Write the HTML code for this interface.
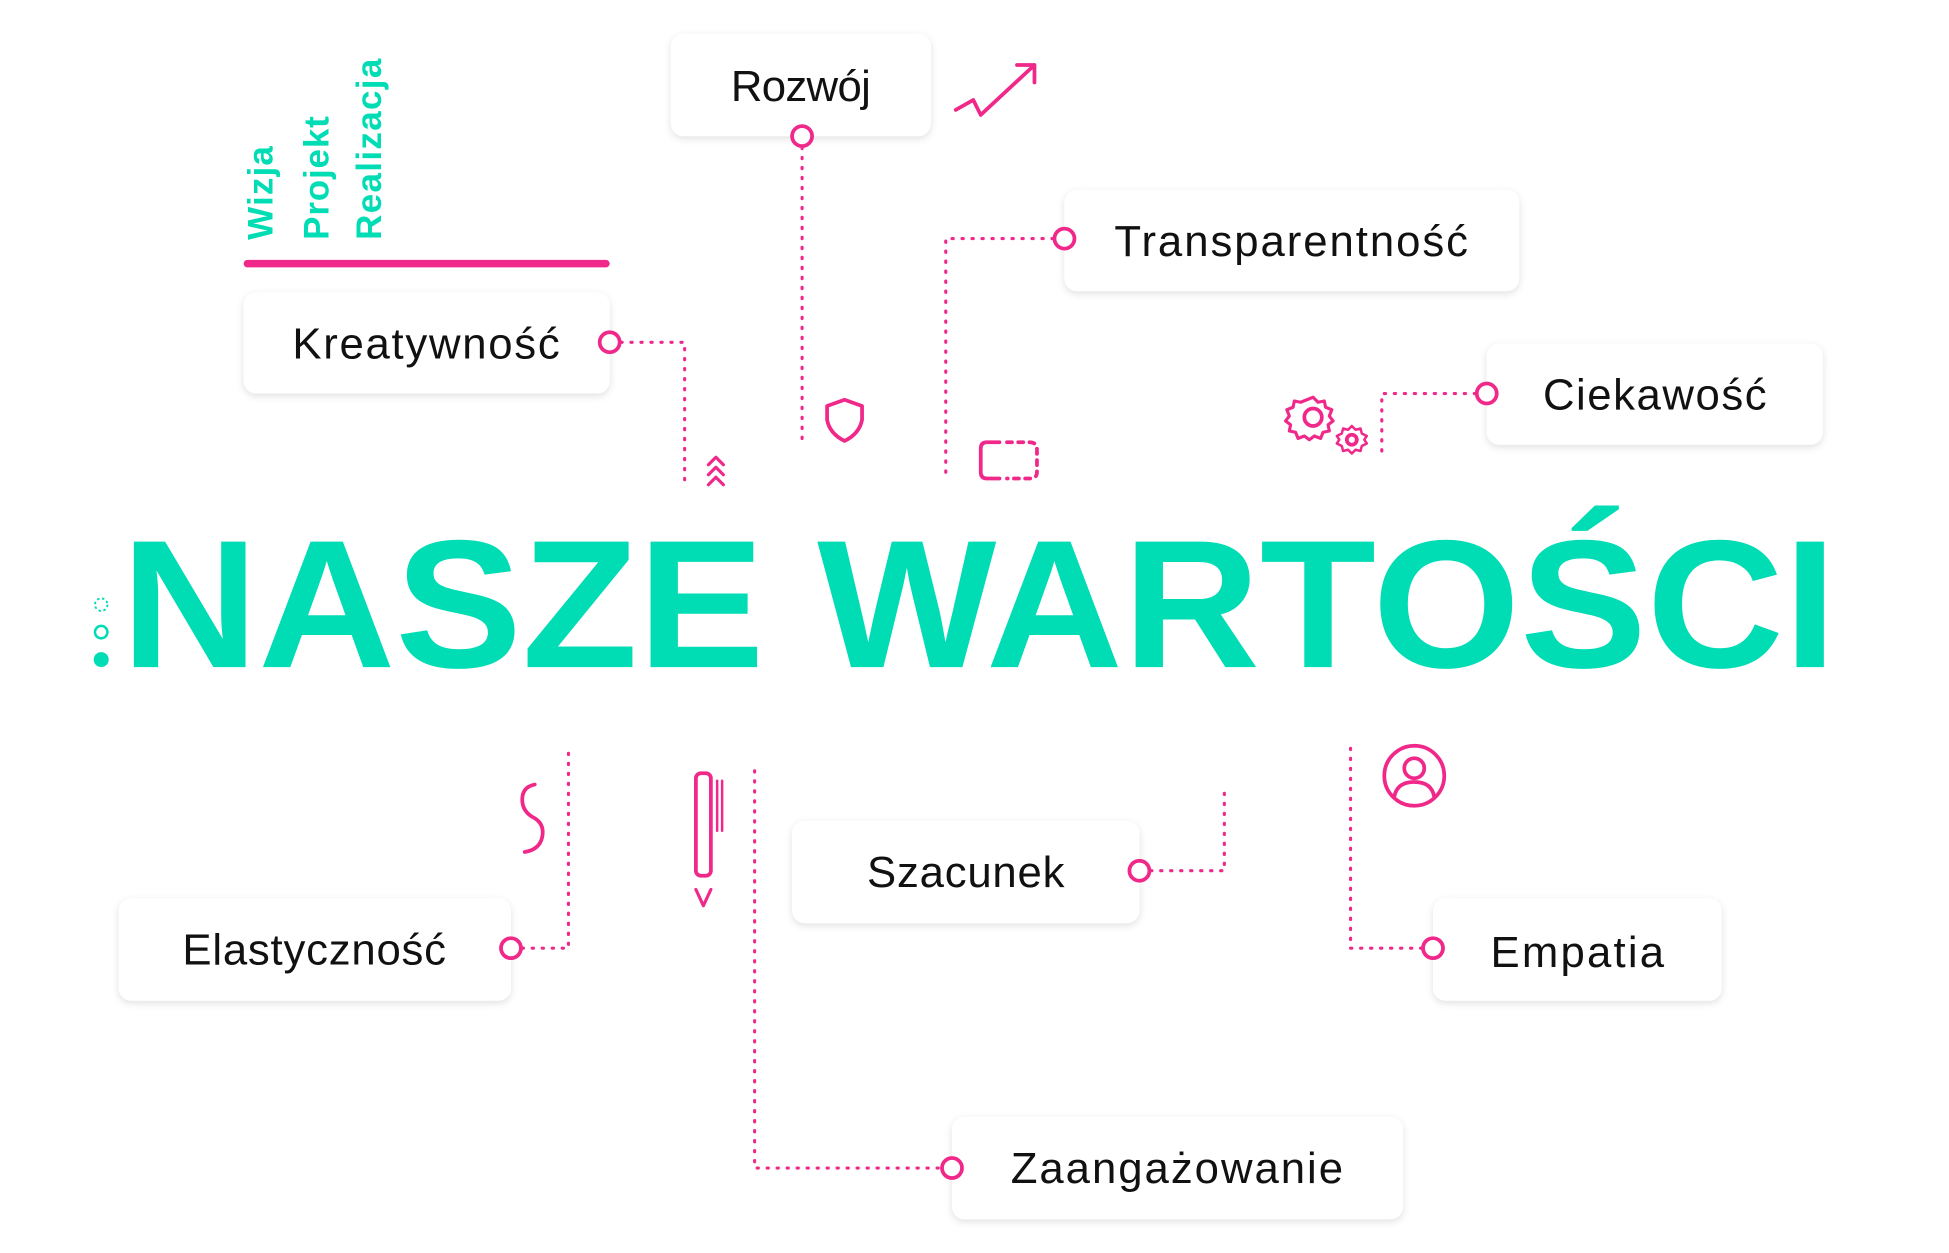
<!DOCTYPE html>
<html><head><meta charset="utf-8"><style>
html,body{margin:0;padding:0;background:#fff;}
svg{display:block;}
text{font-family:"Liberation Sans",sans-serif;}
</style></head><body>
<svg width="1949" height="1253" viewBox="0 0 1560 1003" preserveAspectRatio="none" xmlns="http://www.w3.org/2000/svg">
<defs>
<filter id="sh" x="-10%" y="-20%" width="120%" height="150%">
<feDropShadow dx="0" dy="2" stdDeviation="3" flood-color="#000" flood-opacity="0.12"/>
</filter>
</defs>
<g fill="#fff" filter="url(#sh)">
<rect x="537" y="27" width="208" height="82" rx="10"/>
<rect x="852" y="152" width="364" height="81" rx="10"/>
<rect x="195" y="234" width="293" height="81" rx="10"/>
<rect x="1190" y="275" width="269" height="81" rx="10"/>
<rect x="95" y="719" width="314" height="82" rx="10"/>
<rect x="634" y="657" width="278" height="82" rx="10"/>
<rect x="1147" y="719" width="231" height="82" rx="10"/>
<rect x="762" y="894" width="361" height="82" rx="10"/>
</g>
<g font-size="35" fill="#111" lengthAdjust="spacingAndGlyphs">
<text x="585" y="81" textLength="112">Rozwój</text>
<text x="892" y="205" textLength="283">Transparentność</text>
<text x="234" y="287" textLength="214">Kreatywność</text>
<text x="1235" y="328" textLength="179">Ciekawość</text>
<text x="146" y="772" textLength="211">Elastyczność</text>
<text x="694" y="710" textLength="158">Szacunek</text>
<text x="1193" y="774" textLength="139">Empatia</text>
<text x="809" y="947" textLength="266">Zaangażowanie</text>
</g>
<g fill="none" stroke="#f0288a" stroke-width="2.5" stroke-dasharray="1 7" stroke-linecap="round">
<path d="M642 118 V355"/>
<path d="M843 191 H757 V383"/>
<path d="M497 274 H548 V388"/>
<path d="M1181 315 H1106 V365"/>
<path d="M418 759 H455 V600"/>
<path d="M604 617 V935 H753"/>
<path d="M921 697 H980 V630"/>
<path d="M1138 759 H1081 V598"/>
</g>
<g fill="#fff" stroke="#f0288a" stroke-width="3">
<circle cx="642" cy="109" r="8"/>
<circle cx="852" cy="191" r="8"/>
<circle cx="488" cy="274" r="8"/>
<circle cx="1190" cy="315" r="8"/>
<circle cx="409" cy="759" r="8"/>
<circle cx="912" cy="697" r="8"/>
<circle cx="1147" cy="759" r="8"/>
<circle cx="762" cy="935" r="8"/>
</g>
<rect x="195" y="208" width="293" height="6" rx="3" fill="#f0288a"/>
<g fill="#00dcb4" font-weight="bold" font-size="28" lengthAdjust="spacingAndGlyphs">
<text transform="translate(218,192) rotate(-90)" textLength="75">Wizja</text>
<text transform="translate(263,192) rotate(-90)" textLength="99">Projekt</text>
<text transform="translate(305,192) rotate(-90)" textLength="145">Realizacja</text>
</g>
<text x="97" y="534" font-size="146" font-weight="bold" fill="#00dcb4" textLength="1373" lengthAdjust="spacingAndGlyphs">NASZE WARTOŚCI</text>
<circle cx="81" cy="484" r="5" fill="none" stroke="#00dcb4" stroke-width="1.5" stroke-dasharray="2 2"/>
<circle cx="81" cy="506" r="5" fill="none" stroke="#00dcb4" stroke-width="2"/>
<circle cx="81" cy="528" r="6" fill="#00dcb4"/>
<g fill="none" stroke="#f0288a" stroke-width="3" stroke-linecap="round" stroke-linejoin="round">
<path d="M765 88 L779 80 L785 92 L828 52 M814 52 H828 V66"/>
<path d="M662 325 L676 320 L690 325 V336 Q688 347 676 353 Q664 347 662 336 Z"/>
<path d="M567 372 L573 366 L579 372 M567 380 L573 374 L579 380 M567 388 L573 382 L579 388" stroke-width="2.5"/>
<path d="M800 354 H790 Q785 354 785 359 V378 Q785 383 790 383 H800"/>
<path d="M806 354 H824 Q830 354 830 360 V378 Q830 383 824 383 H806" stroke-dasharray="4 5"/>
<path d="M428 628 Q418 630 418 640 Q418 650 428 655 Q436 660 434 670 Q432 680 420 682"/>
<rect x="557" y="619" width="12" height="82" rx="4"/>
<path d="M574 625 V665 M578 625 V665" stroke-width="2"/>
<path d="M557 712 L563 725 L569 712" stroke-width="2.5"/>
<circle cx="1132" cy="621" r="24"/>
<circle cx="1132" cy="615" r="8"/>
<path d="M1116 638 Q1118 626 1132 626 Q1146 626 1148 638"/>
<circle cx="1051" cy="334" r="7"/>
<path d="M1051 318 l4 4 5-1 1 5 5 2-2 5 3 4-4 3 1 5-5 1-2 5-5-2-4 3-4-3-5 2-2-5-5-1 1-5-4-3 3-4-2-5 5-2 1-5 5 1z" stroke-width="2.5"/>
<circle cx="1082" cy="352" r="4"/>
<path d="M1082 341 l3 3 4-1 1 4 4 2-2 3 2 3-4 2-1 4-4-1-3 3-3-3-4 1-1-4-4-2 2-3-2-3 4-2 1-4 4 1z" stroke-width="2"/>
</g>
</svg>
</body></html>
